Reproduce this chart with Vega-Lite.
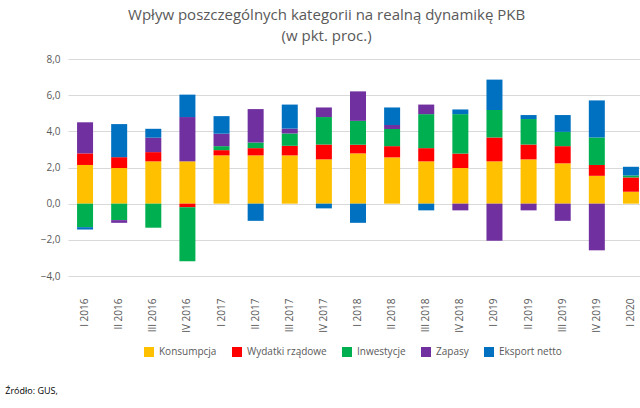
{
  "$schema": "https://vega.github.io/schema/vega-lite/v6.json",
  "title": {"text": ["Wpływ poszczególnych kategorii na realną dynamikę PKB", "(w pkt. proc.)"], "fontSize": 15, "lineHeight": 21, "fontWeight": "normal", "font": "Open Sans", "color": "#595959", "anchor": "middle", "offset": 10},
  "padding": {"left": 5, "top": 8, "right": 15, "bottom": 2},
  "background": "white",
  "vconcat": [{
    "width": 580,
    "height": 217,
    "title": {"text": "Źródło: GUS,", "orient": "bottom", "anchor": "start", "fontSize": 9, "fontWeight": "normal", "font": "Open Sans", "color": "#000", "offset": 55, "dx": -35},
    "data": {"values": [
      {"q":"I 2016","k":"Konsumpcja","o":1,"v":2.14},{"q":"I 2016","k":"Wydatki rządowe","o":2,"v":0.64},{"q":"I 2016","k":"Inwestycje","o":3,"v":-1.3},{"q":"I 2016","k":"Zapasy","o":4,"v":1.72},{"q":"I 2016","k":"Eksport netto","o":5,"v":-0.13},
      {"q":"II 2016","k":"Konsumpcja","o":1,"v":1.97},{"q":"II 2016","k":"Wydatki rządowe","o":2,"v":0.6},{"q":"II 2016","k":"Inwestycje","o":3,"v":-0.91},{"q":"II 2016","k":"Zapasy","o":4,"v":-0.15},{"q":"II 2016","k":"Eksport netto","o":5,"v":1.83},
      {"q":"III 2016","k":"Konsumpcja","o":1,"v":2.34},{"q":"III 2016","k":"Wydatki rządowe","o":2,"v":0.51},{"q":"III 2016","k":"Inwestycje","o":3,"v":-1.33},{"q":"III 2016","k":"Zapasy","o":4,"v":0.8},{"q":"III 2016","k":"Eksport netto","o":5,"v":0.49},
      {"q":"IV 2016","k":"Konsumpcja","o":1,"v":2.34},{"q":"IV 2016","k":"Wydatki rządowe","o":2,"v":-0.2},{"q":"IV 2016","k":"Inwestycje","o":3,"v":-2.98},{"q":"IV 2016","k":"Zapasy","o":4,"v":2.45},{"q":"IV 2016","k":"Eksport netto","o":5,"v":1.24},
      {"q":"I 2017","k":"Konsumpcja","o":1,"v":2.67},{"q":"I 2017","k":"Wydatki rządowe","o":2,"v":0.29},{"q":"I 2017","k":"Inwestycje","o":3,"v":0.22},{"q":"I 2017","k":"Zapasy","o":4,"v":0.69},{"q":"I 2017","k":"Eksport netto","o":5,"v":0.97},
      {"q":"II 2017","k":"Konsumpcja","o":1,"v":2.67},{"q":"II 2017","k":"Wydatki rządowe","o":2,"v":0.4},{"q":"II 2017","k":"Inwestycje","o":3,"v":0.31},{"q":"II 2017","k":"Zapasy","o":4,"v":1.85},{"q":"II 2017","k":"Eksport netto","o":5,"v":-0.95},
      {"q":"III 2017","k":"Konsumpcja","o":1,"v":2.67},{"q":"III 2017","k":"Wydatki rządowe","o":2,"v":0.53},{"q":"III 2017","k":"Inwestycje","o":3,"v":0.68},{"q":"III 2017","k":"Zapasy","o":4,"v":0.27},{"q":"III 2017","k":"Eksport netto","o":5,"v":1.33},
      {"q":"IV 2017","k":"Konsumpcja","o":1,"v":2.45},{"q":"IV 2017","k":"Wydatki rządowe","o":2,"v":0.82},{"q":"IV 2017","k":"Inwestycje","o":3,"v":1.52},{"q":"IV 2017","k":"Zapasy","o":4,"v":0.53},{"q":"IV 2017","k":"Eksport netto","o":5,"v":-0.26},
      {"q":"I 2018","k":"Konsumpcja","o":1,"v":2.78},{"q":"I 2018","k":"Wydatki rządowe","o":2,"v":0.48},{"q":"I 2018","k":"Inwestycje","o":3,"v":1.32},{"q":"I 2018","k":"Zapasy","o":4,"v":1.63},{"q":"I 2018","k":"Eksport netto","o":5,"v":-1.06},
      {"q":"II 2018","k":"Konsumpcja","o":1,"v":2.56},{"q":"II 2018","k":"Wydatki rządowe","o":2,"v":0.62},{"q":"II 2018","k":"Inwestycje","o":3,"v":0.95},{"q":"II 2018","k":"Zapasy","o":4,"v":0.22},{"q":"II 2018","k":"Eksport netto","o":5,"v":0.97},
      {"q":"III 2018","k":"Konsumpcja","o":1,"v":2.34},{"q":"III 2018","k":"Wydatki rządowe","o":2,"v":0.73},{"q":"III 2018","k":"Inwestycje","o":3,"v":1.88},{"q":"III 2018","k":"Zapasy","o":4,"v":0.53},{"q":"III 2018","k":"Eksport netto","o":5,"v":-0.37},
      {"q":"IV 2018","k":"Konsumpcja","o":1,"v":1.97},{"q":"IV 2018","k":"Wydatki rządowe","o":2,"v":0.8},{"q":"IV 2018","k":"Inwestycje","o":3,"v":2.18},{"q":"IV 2018","k":"Zapasy","o":4,"v":-0.37},{"q":"IV 2018","k":"Eksport netto","o":5,"v":0.26},
      {"q":"I 2019","k":"Konsumpcja","o":1,"v":2.34},{"q":"I 2019","k":"Wydatki rządowe","o":2,"v":1.32},{"q":"I 2019","k":"Inwestycje","o":3,"v":1.52},{"q":"I 2019","k":"Zapasy","o":4,"v":-2.05},{"q":"I 2019","k":"Eksport netto","o":5,"v":1.68},
      {"q":"II 2019","k":"Konsumpcja","o":1,"v":2.45},{"q":"II 2019","k":"Wydatki rządowe","o":2,"v":0.82},{"q":"II 2019","k":"Inwestycje","o":3,"v":1.41},{"q":"II 2019","k":"Zapasy","o":4,"v":-0.37},{"q":"II 2019","k":"Eksport netto","o":5,"v":0.22},
      {"q":"III 2019","k":"Konsumpcja","o":1,"v":2.23},{"q":"III 2019","k":"Wydatki rządowe","o":2,"v":0.95},{"q":"III 2019","k":"Inwestycje","o":3,"v":0.79},{"q":"III 2019","k":"Zapasy","o":4,"v":-0.95},{"q":"III 2019","k":"Eksport netto","o":5,"v":0.93},
      {"q":"IV 2019","k":"Konsumpcja","o":1,"v":1.54},{"q":"IV 2019","k":"Wydatki rządowe","o":2,"v":0.6},{"q":"IV 2019","k":"Inwestycje","o":3,"v":1.52},{"q":"IV 2019","k":"Zapasy","o":4,"v":-2.58},{"q":"IV 2019","k":"Eksport netto","o":5,"v":2.05},
      {"q":"I 2020","k":"Konsumpcja","o":1,"v":0.66},{"q":"I 2020","k":"Wydatki rządowe","o":2,"v":0.79},{"q":"I 2020","k":"Inwestycje","o":3,"v":0.11},{"q":"I 2020","k":"Zapasy","o":4,"v":0},{"q":"I 2020","k":"Eksport netto","o":5,"v":0.48}
    ]},
    "mark": {"type": "bar", "width": 16},
    "encoding": {
      "x": {"field": "q", "type": "nominal", "sort": null, "title": null,
        "axis": {"labelAngle": -90, "labelFontSize": 10, "labelColor": "#595959", "domain": false, "ticks": false, "labelPadding": 22}},
      "y": {"field": "v", "type": "quantitative", "stack": "zero", "title": null,
        "scale": {"domain": [-4, 8], "nice": false},
        "axis": {"values": [-4, -2, 0, 2, 4, 6, 8], "labelExpr": "replace(format(datum.value, '.1f'), '.', ',')", "labelFontSize": 10, "labelColor": "#595959", "domain": false, "ticks": false, "gridColor": "#d9d9d9", "labelPadding": 8}},
      "color": {"field": "k", "type": "nominal", "title": null,
        "scale": {"domain": ["Konsumpcja", "Wydatki rządowe", "Inwestycje", "Zapasy", "Eksport netto"], "range": ["#FFC000", "#FF0000", "#00B050", "#7030A0", "#0070C0"]},
        "legend": {"orient": "none", "legendX": 75, "legendY": 287, "direction": "horizontal", "symbolType": "square", "labelFontSize": 10, "labelColor": "#595959", "columnPadding": 14}},
      "order": {"field": "o", "type": "quantitative", "sort": "ascending"}
    },
    "transform": [{"filter": "datum.v != 0"}]
  }],
  "config": {"view": {"stroke": null}, "font": "Open Sans"}
}
